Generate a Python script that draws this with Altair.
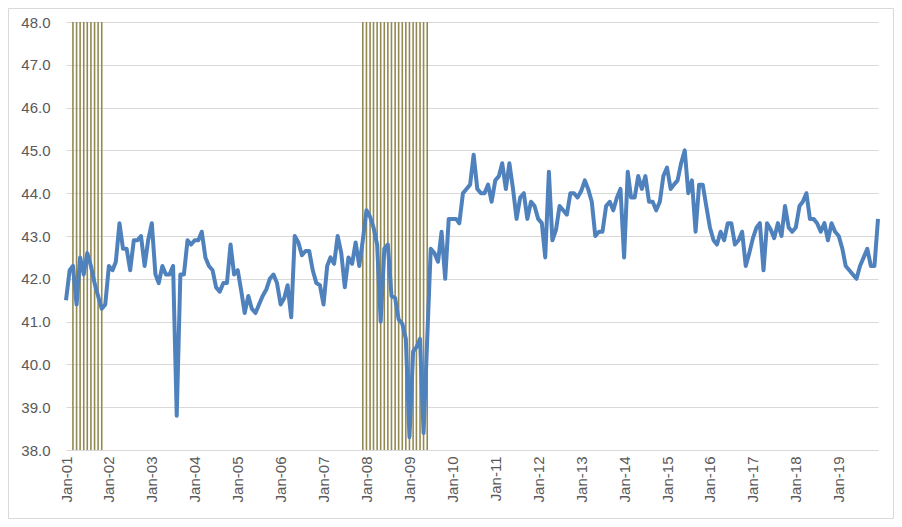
import altair as alt
import pandas as pd

# Monthly values, Jan 2001 - Dec 2019 (one list per year)
v2001 = [41.5, 42.2, 42.3, 41.4, 42.5, 42.1, 42.6, 42.3, 41.9, 41.6, 41.3, 41.4]
v2002 = [42.3, 42.2, 42.4, 43.3, 42.7, 42.7, 42.2, 42.9, 42.9, 43.0, 42.3, 42.9]
v2003 = [43.3, 42.1, 41.9, 42.3, 42.1, 42.1, 42.3, 38.8, 42.1, 42.1, 42.9, 42.8]
v2004 = [42.9, 42.9, 43.1, 42.5, 42.3, 42.2, 41.8, 41.7, 41.9, 41.9, 42.8, 42.1]
v2005 = [42.2, 41.7, 41.2, 41.6, 41.3, 41.2, 41.4, 41.6, 41.75, 42.0, 42.1, 41.9]
v2006 = [41.4, 41.55, 41.85, 41.1, 43.0, 42.85, 42.55, 42.65, 42.65, 42.2, 41.9, 41.85]
v2007 = [41.4, 42.3, 42.5, 42.35, 43.0, 42.6, 41.8, 42.5, 42.35, 42.85, 42.3, 42.9]
v2008 = [43.6, 43.45, 43.2, 42.8, 41.0, 42.7, 42.8, 41.6, 41.55, 41.05, 40.95, 40.6]
v2009 = [38.3, 40.3, 40.4, 40.6, 38.4, 40.6, 42.7, 42.6, 42.4, 43.1, 42.0, 43.4]
v2010 = [43.4, 43.4, 43.3, 44.0, 44.1, 44.2, 44.9, 44.1, 44.0, 44.0, 44.2, 43.8]
v2011 = [44.3, 44.4, 44.7, 44.1, 44.7, 44.1, 43.4, 43.9, 44.0, 43.4, 43.8, 43.7]
v2012 = [43.4, 43.3, 42.5, 44.5, 42.9, 43.15, 43.7, 43.6, 43.5, 44.0, 44.0, 43.9]
v2013 = [44.05, 44.3, 44.1, 43.8, 43.0, 43.1, 43.1, 43.7, 43.8, 43.6, 43.9, 44.1]
v2014 = [42.5, 44.5, 43.9, 43.9, 44.4, 44.1, 44.4, 43.8, 43.8, 43.6, 43.8, 44.4]
v2015 = [44.6, 44.1, 44.2, 44.3, 44.7, 45.0, 44.0, 44.3, 43.1, 44.2, 44.2, 43.7]
v2016 = [43.2, 42.9, 42.8, 43.1, 42.9, 43.3, 43.3, 42.8, 42.9, 43.1, 42.3, 42.6]
v2017 = [42.95, 43.2, 43.3, 42.2, 43.3, 43.15, 42.95, 43.3, 43.0, 43.7, 43.2, 43.1]
v2018 = [43.2, 43.7, 43.8, 44.0, 43.4, 43.4, 43.3, 43.1, 43.3, 42.9, 43.3, 43.1]
v2019 = [43.0, 42.7, 42.3, 42.2, 42.1, 42.0, 42.3, 42.5, 42.7, 42.3, 42.3, 43.4]

years = [v2001, v2002, v2003, v2004, v2005, v2006, v2007, v2008, v2009, v2010,
         v2011, v2012, v2013, v2014, v2015, v2016, v2017, v2018, v2019]

# Recession periods (monthly bars)
recessions = [("2001-03-01", "2001-11-01"), ("2007-12-01", "2009-06-01")]

y_ticks = [38, 39, 40, 41, 42, 43, 44, 45, 46, 47, 48]

values = [v for yr in years for v in yr]
dates = pd.date_range("2001-01-01", periods=len(values), freq="MS")
df = pd.DataFrame({"date": dates, "value": values})

rec_dates = []
for s, e in recessions:
    rec_dates.extend(pd.date_range(s, e, freq="MS"))
rec = pd.DataFrame({"date": rec_dates, "top": 48.0, "bottom": 38.0})

jan_ticks = [alt.DateTime(year=y, month=1, date=1) for y in range(2001, 2020)]

FONT = "Liberation Sans"
W, H = 812, 428
PL, PT, PR, PB = 58, 14, 16, 69

x_scale = alt.Scale(domain=[alt.DateTime(year=2001, month=1, date=1),
                            alt.DateTime(year=2019, month=12, date=1)], nice=False)
y_scale = alt.Scale(domain=[38, 48], nice=False, zero=False)

frame = alt.Chart(pd.DataFrame({"k": [0]})).mark_rect(
    fill=None, stroke="#d9d9d9", strokeWidth=1).encode(
    x=alt.value(-PL + 0.5), x2=alt.value(W + PR - 0.5),
    y=alt.value(-PT + 0.5), y2=alt.value(H + PB - 0.5),
)

rules = alt.Chart(rec).mark_rule(color="#938953", strokeWidth=1.6).encode(
    x=alt.X("date:T", scale=x_scale),
    y=alt.Y("top:Q", scale=y_scale),
    y2="bottom:Q",
)

line = alt.Chart(df).mark_line(color="#4F81BD", strokeWidth=4, strokeJoin="round").encode(
    x=alt.X("date:T", scale=x_scale,
            axis=alt.Axis(values=jan_ticks, format="%b-%y", labelAngle=-90,
                          title=None, grid=False, ticks=False, domain=True,
                          domainColor="#d9d9d9", domainWidth=1,
                          labelColor="#595959", labelFont=FONT, labelFontSize=15,
                          labelPadding=6, labelOverlap=False, labelBound=False,
                          labelFlush=False)),
    y=alt.Y("value:Q", scale=y_scale,
            axis=alt.Axis(values=y_ticks, format=".1f", title=None, grid=True,
                          gridColor="#d9d9d9", gridWidth=1, ticks=False, domain=False,
                          labelColor="#595959", labelFont=FONT, labelFontSize=15,
                          labelPadding=16)),
)

chart = alt.layer(frame, rules, line).properties(
    width=W, height=H,
    autosize=alt.AutoSizeParams(type="none"),
    padding={"left": PL, "top": PT, "right": PR, "bottom": PB},
    background="white",
).configure_view(stroke=None)

chart.save("out.html", embed_options={"renderer": "svg", "actions": False})
